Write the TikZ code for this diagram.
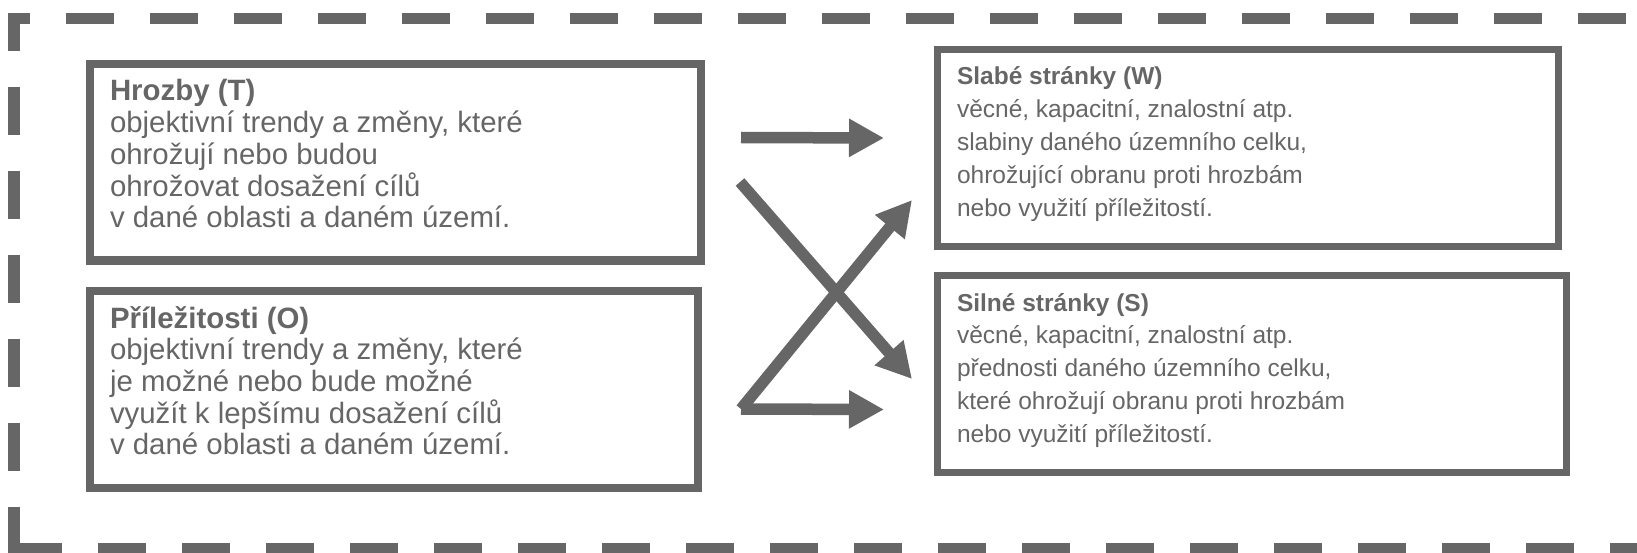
\documentclass[tikz,border=0pt]{standalone}
\usepackage{fontspec}
\setmainfont{Liberation Sans}
\usetikzlibrary{arrows.meta}
\definecolor{ink}{HTML}{666666}

\tikzset{
  frame/.style={draw=ink, line width=11.5pt, line cap=butt, line join=miter,
                dash pattern=on 48pt off 36pt},
  box/.style={draw=ink, line width=#1, inner sep=0pt, outer sep=0pt},
  lefttext/.style={anchor=north west, inner sep=0pt, outer sep=0pt, align=left,
                   text=ink, font=\fontsize{29.4}{31.7}\selectfont},
  righttext/.style={anchor=north west, inner sep=0pt, outer sep=0pt, align=left,
                    text=ink, font=\fontsize{24.5}{32.9}\selectfont},
  flow/.style={draw=ink, line width=11.5pt, line cap=butt,
               -{Triangle[length=35pt,width=36pt]}}
}

\begin{document}
\begin{tikzpicture}[x=1pt,y=-1pt]
\useasboundingbox (0,0) rectangle (1637,553);

% outer dashed frame (runs off the right and bottom edges)
\draw[frame] (14,555) -- (14,18.5) -- (1660,18.5);
\draw[frame] (14,549) -- (1660,549);

% the four boxes
\node[box=8pt, minimum width=610.5pt, minimum height=196.5pt] (T) at (395.25,162.25) {};
\node[box=8pt, minimum width=608pt, minimum height=197pt] (O) at (394,389) {};
\node[box=7pt, minimum width=621pt, minimum height=197.5pt] (W) at (1247.5,148.25) {};
\node[box=7pt, minimum width=629pt, minimum height=197pt] (S) at (1251.5,374) {};

% box texts
\node[lefttext] (Ttext) at (110,75) {\rule{0pt}{26pt}\textbf{Hrozby (T)}\\
  objektivní trendy a změny, které\\
  ohrožují nebo budou\\
  ohrožovat dosažení cílů\\
  v dané oblasti a daném území.};
\node[lefttext] (Otext) at (110,302) {\rule{0pt}{26pt}\textbf{Příležitosti (O)}\\
  objektivní trendy a změny, které\\
  je možné nebo bude možné\\
  využít k lepšímu dosažení cílů\\
  v dané oblasti a daném území.};
\node[righttext] (Wtext) at (957,63) {\rule{0pt}{22pt}\textbf{Slabé stránky (W)}\\
  věcné, kapacitní, znalostní atp.\\
  slabiny daného územního celku,\\
  ohrožující obranu proti hrozbám\\
  nebo využití příležitostí.};
\node[righttext] (Stext) at (957,289) {\rule{0pt}{22pt}\textbf{Silné stránky (S)}\\
  věcné, kapacitní, znalostní atp.\\
  přednosti daného územního celku,\\
  které ohrožují obranu proti hrozbám\\
  nebo využití příležitostí.};

% arrow end points
\coordinate (TWs) at (741,137.5);
\coordinate (TWe) at (884,138);
\coordinate (TSs) at (740,182);
\coordinate (TSe) at (912,379);
\coordinate (Os)  at (741,409);
\coordinate (OWe) at (912,200);
\coordinate (OSe) at (884,409.5);

% arrows
\draw[flow] (TWs) -- (TWe);
\draw[flow] (TSs) -- (TSe);
\draw[flow] (Os) -- (OWe);
\draw[flow] (Os) -- (OSe);
\end{tikzpicture}
\end{document}
